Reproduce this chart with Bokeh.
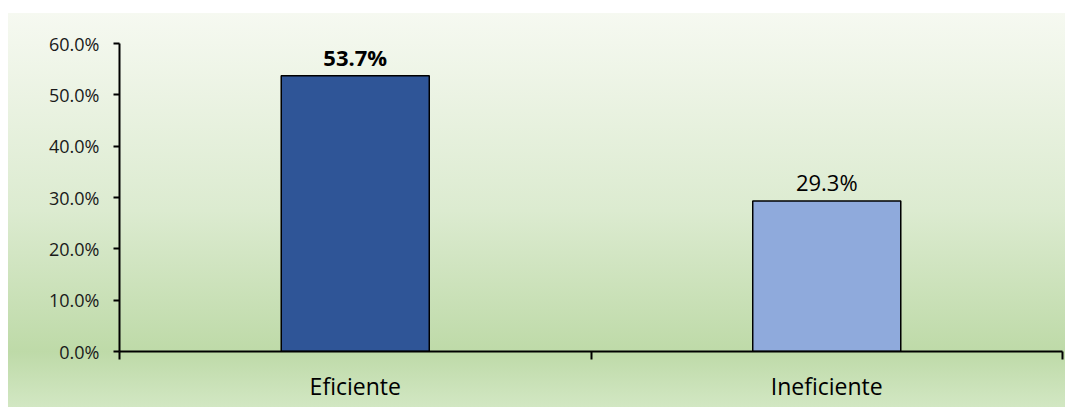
from bokeh.plotting import figure
from bokeh.models import Range1d, FixedTicker, NumeralTickFormatter, ColumnDataSource
from bokeh.core.properties import value
from bokeh.embed import file_html
from bokeh.resources import INLINE

categories = ["Eficiente", "Ineficiente"]
values = [0.537, 0.293]
labels = ["53.7%", "29.3%"]
label_styles = ["bold", "normal"]
colors = ["#2f5597", "#8faadc"]
y_ticks = [0.0, 0.1, 0.2, 0.3, 0.4, 0.5, 0.6]

FONT = "Open Sans"

xs = [i + 0.5 for i in range(len(categories))]
src = ColumnDataSource(dict(x=xs, top=values, label=labels, style=label_styles,
                            color=colors))

p = figure(width=1065, height=407, output_backend="svg", toolbar_location=None,
           x_range=Range1d(0, len(categories)), y_range=Range1d(0, 0.6),
           min_border_left=119, min_border_right=3, min_border_top=43,
           min_border_bottom=56)

p.styles = {
    "background-color": "#ffffff",
    "background-image": "linear-gradient(to bottom, #f6f9f1 0%, #dcebd0 50%, "
                        "#bedaa8 86%, #d2e7c3 100%)",
    "background-repeat": "no-repeat",
    "background-position": "8px 13px",
    "background-size": "calc(100% - 8px) calc(100% - 13px)",
}
p.border_fill_color = None
p.background_fill_color = None
p.outline_line_color = None
p.grid.visible = False

p.vbar(x="x", top="top", width=0.314, bottom=0, source=src, fill_color="color",
       line_color="black", line_width=1.5)

p.text(x="x", y="top", text="label", source=src, text_align="center",
       text_baseline="alphabetic", y_offset=-19, text_font=value(FONT),
       text_font_size="22px", text_font_style="style", text_color="black")

# x axis
p.xaxis.ticker = FixedTicker(ticks=xs, minor_ticks=list(range(len(categories) + 1)))
p.xaxis.major_label_overrides = {x: c for x, c in zip(xs, categories)}
p.xaxis.major_tick_out = 0
p.xaxis.major_tick_in = 0
p.xaxis.minor_tick_out = 8
p.xaxis.minor_tick_in = 0
p.xaxis.minor_tick_line_color = "black"
p.xaxis.minor_tick_line_width = 2
p.xaxis.axis_line_color = "black"
p.xaxis.axis_line_width = 2
p.xaxis.major_label_text_font = FONT
p.xaxis.major_label_text_font_size = "23px"
p.xaxis.major_label_text_color = "black"
p.xaxis.major_label_standoff = 10

# y axis
p.yaxis.ticker = FixedTicker(ticks=y_ticks, minor_ticks=[])
p.yaxis.formatter = NumeralTickFormatter(format="0.0%")
p.yaxis.major_tick_out = 6
p.yaxis.major_tick_in = 0
p.yaxis.major_tick_line_color = "black"
p.yaxis.major_tick_line_width = 2
p.yaxis.axis_line_color = "black"
p.yaxis.axis_line_width = 2
p.yaxis.major_label_text_font = FONT
p.yaxis.major_label_text_font_size = "18px"
p.yaxis.major_label_text_color = "#1a1a1a"
p.yaxis.major_label_standoff = 14

open("out.html", "w").write(file_html(p, INLINE))
